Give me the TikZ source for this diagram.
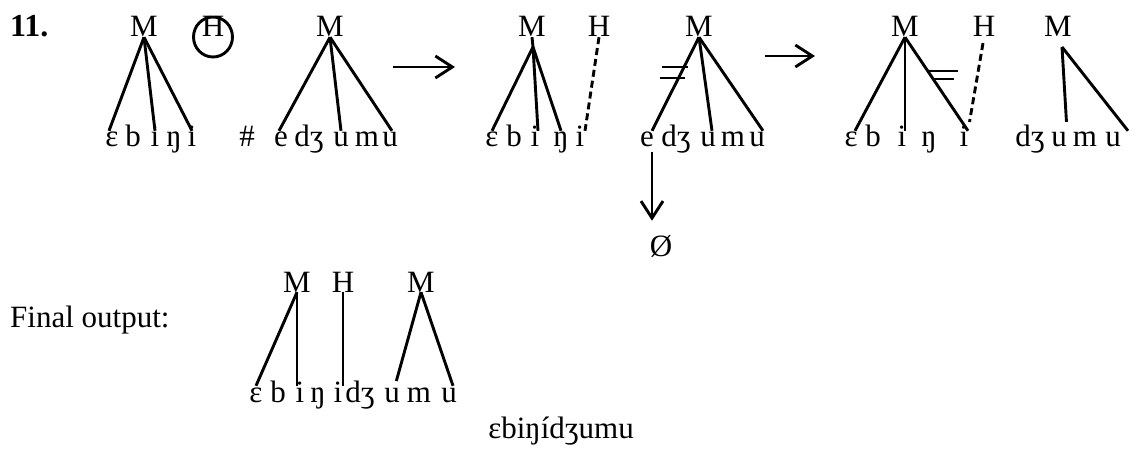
\documentclass[tikz,border=0pt]{standalone}
\usepackage{fontspec}
\setmainfont{Liberation Serif}
\usetikzlibrary{arrows.meta,calc}

\begin{document}
\begin{tikzpicture}[x=1pt,y=-1pt,
  tone/.style={font=\fontsize{31}{36}\selectfont, inner sep=0pt, anchor=base, text depth=0pt},
  seg/.style={font=\fontsize{31}{36}\selectfont, inner sep=0pt, anchor=base, text height=16pt, text depth=0pt},
  lbl/.style={font=\fontsize{31}{36}\selectfont, inner sep=0pt, anchor=base},
  assoc/.style={draw=black, line width=2.9pt},
  dassoc/.style={draw=black, line width=2.9pt, dash pattern=on 7pt off 4pt},
  rarrow/.style={draw=black, line width=2.9pt, -{Straight Barb[length=17pt,width=22pt,line width=2.9pt]}}
]
\useasboundingbox (0,0) rectangle (1132,449);

\node[lbl, anchor=base west, font=\bfseries\fontsize{32}{36}\selectfont] (num) at (10,37) {11.};

% first form
\node[tone] (pm1) at (144,37) {M};
\node[tone] (ph1) at (213,37) {H};
\draw[line width=2.9pt] (ph1.base) ellipse [x radius=19.5, y radius=20];
\node[seg] (pa1) at (112,147) {ɛ};
\node[seg] (pa2) at (133,147) {b};
\node[seg] (pa3) at (155,147) {i};
\node[seg] (pa4) at (174,147) {ŋ};
\node[seg] (pa5) at (192,147) {i};
\node[lbl] (pwb) at (247,147) {\#};
\node[tone] (pm2) at (330,37) {M};
\node[seg] (pb1) at (281,147) {e};
\node[seg] (pb2) at (309,147) {dʒ};
\node[seg] (pb3) at (341,147) {u};
\node[seg] (pb4) at (367,147) {m};
\node[seg] (pb5) at (390,147) {u};
\draw[assoc] (pm1.south) -- ([xshift=-3pt]pa1.north);
\draw[assoc] (pm1.south) -- (pa3.north);
\draw[assoc] (pm1.south) -- (pa5.north);
\draw[assoc] (pm2.south) -- ([xshift=-2pt]pb1.north);
\draw[assoc] (pm2.south) -- (pb3.north);
\draw[assoc] (pm2.south) -- ([xshift=2pt]pb5.north);

\coordinate (r1s) at (393,67);
\coordinate (r1e) at (455,67);
\draw[rarrow] (r1s) -- (r1e);

% second form
\node[tone] (qm1) at (532,37) {M};
\node[tone] (qh1) at (599,37) {H};
\coordinate (qk) at (533,47);
\node[seg] (qa1) at (492,147) {ɛ};
\node[seg] (qa2) at (514,147) {b};
\node[seg] (qa3) at (535,147) {i};
\node[seg] (qa4) at (561,147) {ŋ};
\node[seg] (qa5) at (580,147) {i};
\node[tone] (qm2) at (699,37) {M};
\node[seg] (qb1) at (647,147) {e};
\node[seg] (qb2) at (676,147) {dʒ};
\node[seg] (qb3) at (708,147) {u};
\node[seg] (qb4) at (733,147) {m};
\node[seg] (qb5) at (757,147) {u};
\node[lbl] (nul) at (661,256) {Ø};
\draw[assoc] (qm1.south) -- (qk);
\draw[assoc] (qk) -- (qa1.north);
\draw[assoc] (qk) -- ([xshift=3pt]qa3.north);
\draw[assoc] (qk) -- (qa4.north);
\draw[dassoc] (qh1.south) -- ([xshift=5pt]qa5.north);
\draw[assoc] (qm2.south) -- ([xshift=5pt]qb1.north);
\draw[assoc] (qm2.south) -- ([xshift=4pt]qb3.north);
\draw[assoc] (qm2.south) -- ([xshift=6pt]qb5.north);
\draw[assoc] (662,67) -- (688,67);
\draw[assoc] (660,78) -- (685,78);
\draw[rarrow, shorten <=5pt, shorten >=14pt] ([xshift=5pt]qb1.south) -- ([xshift=5pt]qb1.south |- nul.north);

\coordinate (r2s) at (765,56);
\coordinate (r2e) at (815,56);
\draw[rarrow] (r2s) -- (r2e);

% third form
\node[tone] (rm1) at (905,37) {M};
\node[tone] (rh1) at (984,37) {H};
\node[seg] (ra1) at (851,147) {ɛ};
\node[seg] (ra2) at (873,147) {b};
\node[seg] (ra3) at (902,147) {i};
\node[seg] (ra4) at (929,147) {ŋ};
\node[seg] (ra5) at (964,147) {i};
\node[tone] (rm2) at (1058,37) {M};
\coordinate (rk) at (1062,47);
\node[seg] (rb2) at (1030,147) {dʒ};
\node[seg] (rb3) at (1059,147) {u};
\node[seg] (rb4) at (1085,147) {m};
\node[seg] (rb5) at (1113,147) {u};
\draw[assoc] (rm1.south) -- ([xshift=4pt]ra1.north);
\draw[assoc] (rm1.south) -- (rm1.south |- ra3.north);
\draw[assoc] (rm1.south) -- ([xshift=4pt]ra5.north);
\draw[dassoc, shorten <=6pt, shorten >=9pt] (rh1.south) -- ([xshift=4pt]ra5.north);
\draw[assoc] (927,71) -- (958,71);
\draw[assoc] (932,79) -- (954,79);
\draw[assoc, shorten >=9pt] (rk) -- ([xshift=8pt]rb3.north);
\draw[assoc] (rk) -- ([xshift=15pt]rb5.north);

% final output
\node[lbl, anchor=base west] (fin) at (10,327) {Final output:};
\node[tone] (fm1) at (297,292) {M};
\node[tone] (fh1) at (343,292) {H};
\node[tone] (fm2) at (421,292) {M};
\node[seg] (fa1) at (256,402) {ɛ};
\node[seg] (fa2) at (278,402) {b};
\node[seg] (fa3) at (300,402) {i};
\node[seg] (fa4) at (318,402) {ŋ};
\node[seg] (fa5) at (338,402) {i};
\node[seg] (fa6) at (360,402) {dʒ};
\node[seg] (fa7) at (392,402) {u};
\node[seg] (fa8) at (419,402) {m};
\node[seg] (fa9) at (449,402) {u};
\draw[assoc] (fm1.south) -- (fa1.north);
\draw[assoc] (fm1.south) -- (fm1.south |- fa3.north);
\draw[assoc] (fh1.south) -- (fh1.south |- fa5.north);
\draw[assoc, shorten >=5pt] (fm2.south) -- ([xshift=3pt]fa7.north);
\draw[assoc] (fm2.south) -- ([xshift=4pt]fa9.north);
\node[lbl] (outw) at (561,438) {ɛbiŋídʒumu};

\end{tikzpicture}
\end{document}
